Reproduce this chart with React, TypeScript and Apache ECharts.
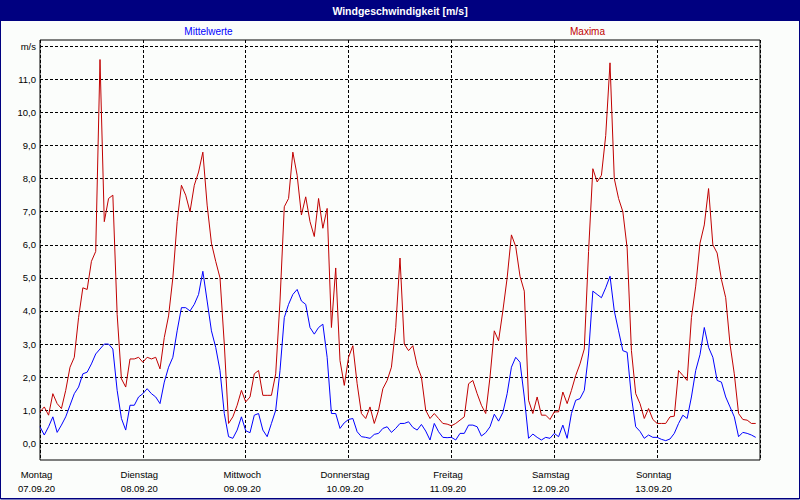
import React, { useEffect, useRef } from 'react';
import * as echarts from 'echarts';

const dayNames = ['Montag', 'Dienstag', 'Mittwoch', 'Donnerstag', 'Freitag', 'Samstag', 'Sonntag'];
const dayDates = ['07.09.20', '08.09.20', '09.09.20', '10.09.20', '11.09.20', '12.09.20', '13.09.20'];

// hourly mean wind speed [m/s], 7 days x 24 h
const mittelwerte = [
  0.5, 0.25, 0.5, 0.8, 0.33, 0.55, 0.8, 1.15, 1.5, 1.7, 2.1, 2.15, 2.4, 2.7, 2.85, 3.0, 3.0, 2.85, 1.6, 0.75, 0.4, 1.15, 1.15, 1.4,
  1.5, 1.65, 1.5, 1.4, 1.2, 1.85, 2.3, 2.6, 3.4, 4.1, 4.1, 4.0, 4.2, 4.5, 5.2, 4.3, 3.4, 2.9, 2.2, 0.9, 0.2, 0.15, 0.4, 0.8,
  0.38, 0.32, 0.85, 0.9, 0.4, 0.2, 0.6, 1.0, 2.2, 3.8, 4.2, 4.5, 4.65, 4.3, 4.2, 3.5, 3.3, 3.5, 3.6, 2.6, 0.9, 0.9, 0.45, 0.62,
  0.72, 0.75, 0.35, 0.2, 0.18, 0.15, 0.27, 0.3, 0.45, 0.5, 0.33, 0.45, 0.6, 0.6, 0.65, 0.48, 0.4, 0.57, 0.37, 0.1, 0.6, 0.35, 0.18, 0.17,
  0.18, 0.1, 0.3, 0.3, 0.55, 0.55, 0.5, 0.22, 0.32, 0.5, 0.88, 0.67, 0.93, 1.5, 2.3, 2.6, 2.45, 1.4, 0.15, 0.28, 0.18, 0.1, 0.18, 0.15,
  0.3, 0.2, 0.55, 0.15, 0.9, 1.3, 1.35, 1.6, 2.7, 4.6, 4.5, 4.4, 4.7, 5.05, 4.0, 3.4, 2.8, 2.75, 1.4, 0.5, 0.36, 0.15, 0.25, 0.18,
  0.18, 0.12, 0.08, 0.13, 0.3, 0.6, 0.85, 0.75, 1.4, 2.2, 2.68, 3.5, 2.9, 2.6, 1.9, 1.85, 1.4, 1.1, 0.8, 0.2, 0.33, 0.3, 0.25, 0.18,
];

// hourly maximum wind speed [m/s]
const maxima = [
  0.95, 1.1, 0.85, 1.5, 1.2, 1.05, 1.6, 2.3, 2.6, 3.8, 4.7, 4.65, 5.5, 5.8, 11.6, 6.7, 7.4, 7.5, 3.9, 1.95, 1.7, 2.55, 2.55, 2.6,
  2.45, 2.6, 2.55, 2.6, 2.25, 3.2, 3.85, 5.0, 6.7, 7.8, 7.5, 7.0, 7.8, 8.2, 8.8, 7.2, 6.05, 5.5, 5.0, 3.0, 0.6, 0.8, 1.15, 1.6,
  1.25, 1.4, 2.1, 2.2, 1.45, 1.45, 1.45, 2.1, 4.3, 7.15, 7.4, 8.8, 8.1, 6.9, 7.45, 6.7, 6.25, 7.4, 6.5, 7.1, 3.5, 5.3, 2.5, 1.75,
  2.6, 2.95, 1.8, 0.9, 0.75, 1.1, 0.6, 1.0, 1.65, 1.9, 2.3, 3.5, 5.6, 3.0, 2.8, 2.95, 2.35, 2.0, 1.0, 0.75, 0.9, 0.75, 0.6, 0.58,
  0.53, 0.6, 0.7, 0.8, 1.8, 1.9, 1.5, 1.15, 0.9, 2.0, 3.4, 3.1, 4.0, 5.0, 6.3, 5.95, 5.05, 4.6, 1.3, 0.9, 1.4, 0.85, 0.85, 0.72,
  0.95, 0.95, 1.55, 1.2, 1.6, 2.05, 2.4, 2.85, 5.8, 8.3, 7.9, 8.1, 9.3, 11.5, 8.0, 7.4, 7.0, 5.9, 2.8, 1.5, 1.2, 0.75, 1.05, 0.72,
  0.6, 0.6, 0.6, 0.8, 0.82, 2.2, 2.05, 1.9, 3.8, 4.75, 6.05, 6.6, 7.7, 6.0, 5.75, 4.95, 4.4, 3.0, 2.1, 0.9, 0.72, 0.7, 0.6, 0.6,
];

const titleText = 'Windgeschwindigkeit [m/s]';
const seriesNames = ['Mittelwerte', 'Maxima'];
const unitLabel = 'm/s';

export default function App() {
  const ref = useRef<HTMLDivElement>(null);
  useEffect(() => {
    if (!ref.current) return;
    const chart = echarts.init(ref.current, null, { renderer: 'svg' });
    const font = '"Liberation Sans", Arial, sans-serif';
    const dash = [3, 2];
    chart.setOption({
      animation: false,
      backgroundColor: '#fbfdfb',
      textStyle: { fontFamily: font },
      grid: [
        { left: 40, top: 40, width: 720, height: 420, show: true, borderColor: '#000', borderWidth: 1, backgroundColor: 'transparent' },
        { left: 40, top: 46.3, width: 720, height: 397 },
      ],
      xAxis: [
        {
          gridIndex: 0, type: 'value', min: 0, max: 168, interval: 24,
          axisLine: { show: false }, axisTick: { show: false },
          splitLine: { show: true, lineStyle: { color: '#000', type: dash, width: 1 } },
          axisLabel: {
            margin: 7, fontSize: 9.5, lineHeight: 14.5, color: '#000', fontFamily: font,
            padding: [0, 7, 0, 0],
            formatter: (v: number) => {
              const i = Math.round(v / 24);
              return i < 7 ? dayNames[i] + '\n' + dayDates[i] : '';
            },
          },
        },
        { gridIndex: 1, type: 'value', min: 0, max: 168, show: false },
      ],
      yAxis: [
        { gridIndex: 0, type: 'value', min: 0, max: 1, show: false },
        {
          gridIndex: 1, type: 'value', min: 0, max: 12, interval: 1,
          axisLine: { show: false }, axisTick: { show: false },
          splitLine: { show: true, lineStyle: { color: '#000', type: dash, width: 1 } },
          axisLabel: {
            margin: 4, fontSize: 9.5, color: '#000', fontFamily: font,
            formatter: (v: number) => (v === 12 ? unitLabel : v.toFixed(1).replace('.', ',')),
          },
        },
      ],
      series: [
        {
          name: seriesNames[0], type: 'line', xAxisIndex: 1, yAxisIndex: 1,
          data: mittelwerte.map((v, i) => [i, v]),
          showSymbol: false, lineStyle: { color: '#0000ff', width: 1 }, itemStyle: { color: '#0000ff' },
        },
        {
          name: seriesNames[1], type: 'line', xAxisIndex: 1, yAxisIndex: 1,
          data: maxima.map((v, i) => [i, v]),
          showSymbol: false, lineStyle: { color: '#c00000', width: 1 }, itemStyle: { color: '#c00000' },
        },
      ],
      graphic: [
        { type: 'rect', left: 0, top: 0, shape: { x: 0, y: 0, width: 800, height: 21 }, style: { fill: '#000080' }, silent: true },
        {
          type: 'text', x: 400, y: 11,
          style: { text: titleText, fill: '#ffffff', font: 'bold 10.5px "Liberation Sans", Arial, sans-serif', textAlign: 'center', textVerticalAlign: 'middle' },
        },
        {
          type: 'text', x: 208.5, y: 31,
          style: { text: seriesNames[0], fill: '#0000ff', font: '10px "Liberation Sans", Arial, sans-serif', textAlign: 'center', textVerticalAlign: 'middle' },
        },
        {
          type: 'text', x: 587.5, y: 31,
          style: { text: seriesNames[1], fill: '#c00000', font: '10px "Liberation Sans", Arial, sans-serif', textAlign: 'center', textVerticalAlign: 'middle' },
        },
        {
          type: 'rect', shape: { x: 0.5, y: 0.5, width: 799, height: 498.5 },
          style: { fill: 'none', stroke: '#000080', lineWidth: 1 }, silent: true,
        },
        {
          type: 'line', shape: { x1: 0, y1: 498.5, x2: 800, y2: 498.5 },
          style: { stroke: '#000080', lineWidth: 1 }, silent: true,
        },
      ],
    });
    return () => chart.dispose();
  }, []);
  return <div ref={ref} style={{ position: 'fixed', left: 0, top: 0, width: 800, height: 500 }} />;
}
